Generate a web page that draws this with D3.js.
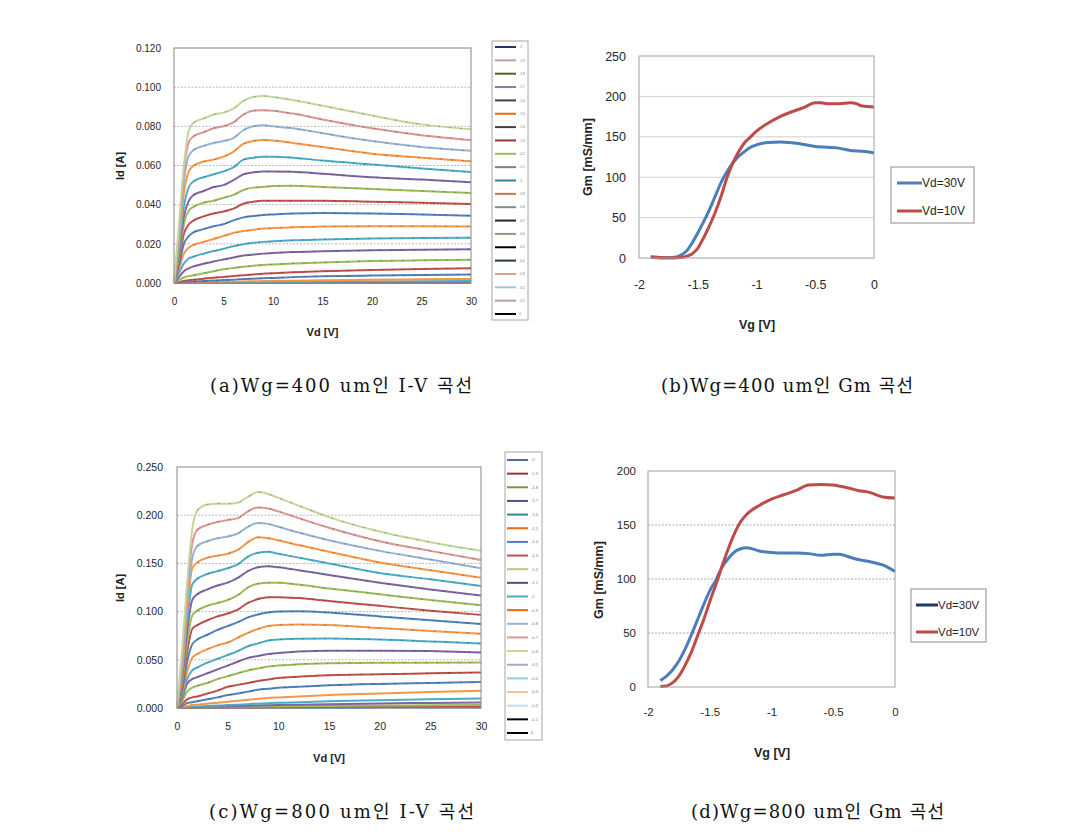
<!DOCTYPE html>
<html><head><meta charset="utf-8">
<script src="https://cdn.jsdelivr.net/npm/d3@7"></script>
<style>body{margin:0;background:#fff}svg{display:block}</style>
</head><body>
<svg id="c" width="1085" height="839"></svg>
<script>
// ---------- DATA ----------
const vdPoints = [0, 0.5, 1, 1.5, 2, 3, 4, 5, 6, 7, 8, 9, 10, 12, 15, 20, 25, 30];
const vgLabels = ["-2","-1.9","-1.8","-1.7","-1.6","-1.5","-1.4","-1.3","-1.2","-1.1","-1","-0.9","-0.8","-0.7","-0.6","-0.5","-0.4","-0.3","-0.2","-0.1","0"];

// Wg=400um I-V: rows listed from top curve (Vg=0) down to Vg=-2
const idWg400 = [
  [0,0.030,0.060,0.078,0.082,0.084,0.086,0.087,0.089,0.093,0.095,0.0955,0.095,0.0935,0.0905,0.0855,0.081,0.0785],
  [0,0.025,0.057,0.072,0.075,0.077,0.079,0.080,0.082,0.086,0.088,0.0882,0.088,0.0865,0.0835,0.079,0.0755,0.073],
  [0,0.022,0.052,0.065,0.068,0.070,0.0715,0.0725,0.074,0.078,0.080,0.0805,0.080,0.079,0.0765,0.0725,0.0695,0.0675],
  [0,0.020,0.046,0.057,0.060,0.062,0.063,0.0645,0.067,0.071,0.0725,0.073,0.0728,0.0715,0.0695,0.066,0.064,0.0622],
  [0,0.017,0.039,0.049,0.052,0.054,0.0555,0.057,0.059,0.063,0.064,0.0645,0.0645,0.064,0.0625,0.0605,0.0585,0.0567],
  [0,0.015,0.034,0.042,0.045,0.047,0.049,0.050,0.0525,0.0555,0.0565,0.057,0.057,0.0568,0.0558,0.054,0.0528,0.0514],
  [0,0.013,0.030,0.037,0.039,0.041,0.042,0.0435,0.045,0.0475,0.0487,0.049,0.0495,0.0497,0.049,0.048,0.047,0.046],
  [0,0.011,0.025,0.030,0.032,0.034,0.0355,0.0365,0.038,0.0405,0.0415,0.042,0.042,0.042,0.042,0.0415,0.041,0.0403],
  [0,0.009,0.020,0.024,0.026,0.0275,0.029,0.030,0.032,0.0335,0.0342,0.0347,0.035,0.0355,0.0357,0.0355,0.035,0.0344],
  [0,0.007,0.015,0.018,0.0195,0.021,0.0225,0.024,0.0255,0.0265,0.0272,0.0278,0.028,0.0285,0.0288,0.029,0.029,0.0289],
  [0,0.005,0.010,0.0125,0.0135,0.015,0.0163,0.0175,0.0188,0.0198,0.0205,0.021,0.0213,0.0218,0.0222,0.0227,0.023,0.0231],
  [0,0.003,0.006,0.0075,0.0085,0.0098,0.011,0.012,0.013,0.014,0.0145,0.015,0.0153,0.0158,0.0162,0.0167,0.017,0.0172],
  [0,0.0015,0.0028,0.0035,0.004,0.005,0.006,0.007,0.0077,0.0083,0.0088,0.0092,0.0095,0.010,0.0105,0.0112,0.0116,0.0119],
  [0,0.0005,0.001,0.0014,0.0017,0.0022,0.0027,0.0031,0.0036,0.004,0.0044,0.0047,0.005,0.0055,0.006,0.0067,0.0072,0.0075],
  [0,0.0002,0.0004,0.0006,0.0008,0.001,0.0013,0.0015,0.0017,0.002,0.0022,0.0024,0.0026,0.003,0.0034,0.0038,0.0041,0.0043],
  [0,0.0001,0.0002,0.0003,0.0003,0.0004,0.0005,0.0006,0.0007,0.0008,0.0009,0.001,0.0011,0.0012,0.0014,0.0017,0.0019,0.0021],
  [0,0,0.0001,0.0001,0.0001,0.0002,0.0002,0.0003,0.0003,0.0004,0.0004,0.0005,0.0005,0.0006,0.0007,0.0008,0.0009,0.001],
  [0,0,0,0,0.0001,0.0001,0.0001,0.0001,0.0002,0.0002,0.0002,0.0002,0.0003,0.0003,0.0003,0.0004,0.0004,0.0005],
  [0,0,0,0,0,0,0,0.0001,0.0001,0.0001,0.0001,0.0001,0.0001,0.0001,0.0001,0.0002,0.0002,0.0002],
  [0,0,0,0,0,0,0,0,0,0,0,0,0,0,0.0001,0.0001,0.0001,0.0001],
  [0,0,0,0,0,0,0,0,0,0,0,0,0,0,0,0,0,0]
];

// Wg=800um I-V: rows from top curve (Vg=0) down to Vg=-2
const idWg800 = [
  [0,0.06,0.13,0.185,0.205,0.211,0.212,0.212,0.213,0.219,0.224,0.222,0.218,0.210,0.198,0.183,0.172,0.163],
  [0,0.05,0.12,0.170,0.185,0.190,0.193,0.195,0.197,0.204,0.208,0.207,0.204,0.197,0.187,0.173,0.163,0.1535],
  [0,0.045,0.11,0.155,0.168,0.173,0.176,0.178,0.181,0.188,0.192,0.191,0.188,0.182,0.174,0.163,0.154,0.145],
  [0,0.04,0.10,0.145,0.151,0.156,0.158,0.160,0.164,0.172,0.177,0.176,0.174,0.169,0.162,0.151,0.143,0.135],
  [0,0.035,0.09,0.128,0.134,0.139,0.142,0.145,0.149,0.157,0.161,0.162,0.160,0.156,0.150,0.140,0.1335,0.1266],
  [0,0.03,0.08,0.112,0.118,0.123,0.127,0.130,0.135,0.142,0.146,0.147,0.146,0.143,0.138,0.130,0.123,0.1166],
  [0,0.025,0.068,0.096,0.101,0.106,0.109,0.112,0.117,0.125,0.129,0.130,0.130,0.128,0.124,0.118,0.112,0.1066],
  [0,0.02,0.058,0.082,0.086,0.091,0.095,0.098,0.102,0.109,0.113,0.115,0.115,0.114,0.111,0.106,0.101,0.0966],
  [0,0.018,0.048,0.066,0.071,0.076,0.081,0.085,0.089,0.094,0.097,0.099,0.100,0.1003,0.099,0.095,0.091,0.0872],
  [0,0.015,0.038,0.052,0.056,0.061,0.065,0.068,0.073,0.078,0.082,0.085,0.086,0.0865,0.086,0.083,0.080,0.077],
  [0,0.012,0.030,0.039,0.042,0.047,0.051,0.055,0.059,0.064,0.067,0.070,0.071,0.0718,0.072,0.071,0.069,0.067],
  [0,0.010,0.025,0.030,0.032,0.036,0.040,0.044,0.048,0.052,0.054,0.056,0.057,0.0585,0.0595,0.0595,0.059,0.0576],
  [0,0.007,0.017,0.021,0.023,0.026,0.030,0.033,0.036,0.039,0.041,0.043,0.044,0.0455,0.0465,0.047,0.047,0.0472],
  [0,0.004,0.009,0.011,0.012,0.015,0.018,0.022,0.024,0.026,0.028,0.0295,0.031,0.0325,0.034,0.035,0.036,0.0369],
  [0,0.002,0.005,0.006,0.007,0.009,0.011,0.0135,0.015,0.017,0.019,0.020,0.021,0.022,0.0235,0.025,0.026,0.0269],
  [0,0.001,0.002,0.003,0.0035,0.0045,0.0055,0.0065,0.0075,0.0085,0.0095,0.0105,0.011,0.012,0.0135,0.015,0.0165,0.018],
  [0,0.0005,0.001,0.0013,0.0016,0.002,0.0025,0.003,0.0035,0.004,0.0045,0.005,0.0055,0.006,0.007,0.008,0.009,0.0098],
  [0,0.0002,0.0005,0.0007,0.0009,0.0012,0.0015,0.0018,0.002,0.0023,0.0026,0.0029,0.0031,0.0035,0.004,0.0047,0.0053,0.0058],
  [0,0.0001,0.0002,0.0003,0.0004,0.0006,0.0007,0.0009,0.001,0.0012,0.0013,0.0015,0.0016,0.0018,0.0021,0.0025,0.0028,0.003],
  [0,0,0.0001,0.0001,0.0002,0.0003,0.0003,0.0004,0.0005,0.0006,0.0006,0.0007,0.0008,0.0009,0.001,0.0012,0.0014,0.0015],
  [0,0,0,0,0,0.0001,0.0001,0.0001,0.0002,0.0002,0.0002,0.0002,0.0003,0.0003,0.0003,0.0004,0.0005,0.0005]
];

// Gm, Wg=400um
const vgGm400 = [-1.9,-1.8,-1.7,-1.65,-1.6,-1.55,-1.5,-1.45,-1.4,-1.35,-1.3,-1.25,-1.2,-1.15,-1.1,-1.05,-1,-0.9,-0.8,-0.7,-0.6,-0.5,-0.45,-0.4,-0.3,-0.2,-0.15,-0.1,0];
const gmVd30_400 = [1,0,1,3,8,18,31,45,60,77,94,107,118,126,132,137,140,143,143.5,142.5,140.5,138,137.5,137,136,133,132.5,132,130];
const gmVd10_400 = [1.5,0.5,0,0.5,2,5,12,25,40,57,77,100,118,132,143,150,157,167,175,181,186,192,192,191,191,192,191,188,187];

// Gm, Wg=800um
const vgGm800 = [-1.9,-1.85,-1.8,-1.75,-1.7,-1.65,-1.6,-1.55,-1.5,-1.45,-1.4,-1.35,-1.3,-1.25,-1.2,-1.1,-1,-0.9,-0.8,-0.7,-0.6,-0.5,-0.45,-0.4,-0.3,-0.2,-0.1,0];
const gmVd30_800 = [6,10,16,24,35,48,62,76,89,99,111,119,125,128,129,126,124.5,124,124,123.5,122,123,123,121.5,118,116,113,107];
const gmVd10_800 = [0.5,1,4,10,20,32,47,62,79,95,112,128,142,153,160,168,174,178,182,187,187.5,187,186,185,182,180,176,175];

// Ticks and texts
const vdTicks = [0, 5, 10, 15, 20, 25, 30];
const idTicks400 = [0, 0.02, 0.04, 0.06, 0.08, 0.10, 0.12];
const idTicks800 = [0, 0.05, 0.10, 0.15, 0.20, 0.25];
const vgTicks = [-2, -1.5, -1, -0.5, 0];
const gmTicks400 = [0, 50, 100, 150, 200, 250];
const gmTicks800 = [0, 50, 100, 150, 200];
const gmSeries = ["Vd=30V", "Vd=10V"];
const captions = ["(a)Wg=400 um인 I-V 곡선", "(b)Wg=400 um인 Gm 곡선", "(c)Wg=800 um인 I-V 곡선", "(d)Wg=800 um인 Gm 곡선"];

// ---------- STYLES ----------
const curveColors = ["#c3d69b","#d99694","#95b3d7","#f79646","#4bacc6","#8064a2","#9bbb59","#c0504d","#4f81bd",
  "#f79646","#4bacc6","#8064a2","#9bbb59","#c0504d","#4f81bd","#f79646","#4bacc6","#8064a2","#9bbb59","#c0504d","#4f81bd"];
const legendColorsA = ["#1f3864","#c4a09c","#4f6228","#7f7f9f","#404040","#e46c0a","#404040","#943634","#9bbb59","#7f7f7f",
  "#31859c","#c0794d","#7f8c8d","#262626","#8c9a7a","#000000","#253b3b","#d8a080","#b0c0e0","#b0a0a0","#000000"];
const legendColorsC = ["#4f6d9b","#a0303a","#77933c","#5f4b8b","#31859c","#e46c0a","#4f81bd","#c0504d","#b3c78a","#604a7b",
  "#4bacc6","#e46c0a","#95b3d7","#d99694","#c3d69b","#b3a2c7","#93cddd","#fac090","#c6d9f1","#000000","#000000"];

const svg = d3.select("#c");
const FONT = "'Liberation Sans', Arial, sans-serif";

function axisStyle(g, size) {
  g.select(".domain").remove();
  g.selectAll("text").attr("font-family", FONT).attr("font-size", size).attr("fill", "#262626");
}

function ivPanel(o) {
  const x = d3.scaleLinear().domain([0, 30]).range([o.x0, o.x1]);
  const y = d3.scaleLinear().domain([0, o.ymax]).range([o.y1, o.y0]);
  const g = svg.append("g");
  g.selectAll("line.grid").data(o.yticks.filter(t => t > 0 && t < o.ymax - 1e-9)).join("line")
    .attr("x1", o.x0).attr("x2", o.x1).attr("y1", d => y(d)).attr("y2", d => y(d))
    .attr("stroke", "#a6a6a6").attr("stroke-width", 0.8).attr("stroke-dasharray", "2,1.5");
  const line = d3.line().x((d, i) => x(vdPoints[i])).y(d => y(d)).curve(d3.curveMonotoneX);
  const lineOv = d3.line().defined((d, i) => i >= 4).x((d, i) => x(vdPoints[i])).y(d => y(d)).curve(d3.curveMonotoneX);
  const rows = o.rows.map((r, i) => ({ r, i })).reverse();
  g.selectAll("path.iv").data(rows).join("path")
    .attr("d", d => line(d.r)).attr("fill", "none")
    .attr("stroke", d => curveColors[d.i]).attr("stroke-width", 2);
  g.selectAll("path.ov").data(rows.filter(d => d.i < 15)).join("path")
    .attr("d", d => lineOv(d.r)).attr("fill", "none")
    .attr("stroke", "#000").attr("stroke-opacity", 0.4).attr("stroke-width", 0.7)
    .attr("stroke-dasharray", "2,9");
  g.append("rect").attr("x", o.x0).attr("y", o.y0).attr("width", o.x1 - o.x0).attr("height", o.y1 - o.y0)
    .attr("fill", "none").attr("stroke", "#868686").attr("stroke-width", 1);
  const ay = g.append("g").attr("transform", `translate(${o.x0},0)`)
    .call(d3.axisLeft(y).tickValues(o.yticks).tickSize(0).tickPadding(o.ypad).tickFormat(d3.format(".3f")));
  axisStyle(ay, o.tick);
  const ax = g.append("g").attr("transform", `translate(0,${o.y1})`)
    .call(d3.axisBottom(x).tickValues(vdTicks).tickSize(0).tickPadding(o.xpad).tickFormat(d => String(d)));
  axisStyle(ax, o.tick);
  g.append("text").attr("x", (o.x0 + o.x1) / 2 + o.xlOff).attr("y", o.xlY).attr("text-anchor", "middle")
    .attr("font-family", FONT).attr("font-weight", "bold").attr("font-size", o.lab).attr("fill", "#222").text("Vd [V]");
  g.append("text").attr("transform", `translate(${o.ylX},${o.ylY}) rotate(-90)`).attr("text-anchor", "middle")
    .attr("font-family", FONT).attr("font-weight", "bold").attr("font-size", o.lab).attr("fill", "#222").text("Id [A]");
  // legend
  const L = o.leg;
  g.append("rect").attr("x", L.x0).attr("y", L.y0).attr("width", L.x1 - L.x0).attr("height", L.y1 - L.y0)
    .attr("fill", "#fff").attr("stroke", "#a6a6a6").attr("stroke-width", 1);
  const ly = d3.scalePoint().domain(vgLabels).range([L.first, L.last]);
  const le = g.selectAll("g.le").data(vgLabels).join("g").attr("transform", d => `translate(0,${ly(d)})`);
  le.append("line").attr("x1", L.lx0).attr("x2", L.lx1).attr("stroke", (d, i) => o.legColors[i]).attr("stroke-width", 2);
  le.append("text").attr("x", L.lx1 + 3).attr("dy", "0.35em").attr("font-family", FONT)
    .attr("font-size", L.fs).attr("fill", "#777").text(d => d);
}

function gmPanel(o) {
  const x = d3.scaleLinear().domain([-2, 0]).range([o.x0, o.x1]);
  const y = d3.scaleLinear().domain([0, o.ymax]).range([o.y1, o.y0]);
  const g = svg.append("g");
  g.selectAll("line.grid").data(o.yticks.filter(t => t > 0 && t < o.ymax)).join("line")
    .attr("x1", o.x0).attr("x2", o.x1).attr("y1", d => y(d)).attr("y2", d => y(d))
    .attr("stroke", o.gridColor).attr("stroke-width", 1).attr("stroke-dasharray", o.gridDash);
  const mk = xs => d3.line().x((d, i) => x(xs[i])).y(d => y(d)).curve(d3.curveMonotoneX);
  g.append("path").attr("d", mk(o.vg)(o.s30)).attr("fill", "none").attr("stroke", "#4a7ebb").attr("stroke-width", 3);
  g.append("path").attr("d", mk(o.vg)(o.s10)).attr("fill", "none").attr("stroke", "#be4b48").attr("stroke-width", 3);
  g.append("rect").attr("x", o.x0).attr("y", o.y0).attr("width", o.x1 - o.x0).attr("height", o.y1 - o.y0)
    .attr("fill", "none").attr("stroke", "#a0a0a0").attr("stroke-width", 1);
  const ay = g.append("g").attr("transform", `translate(${o.x0},0)`)
    .call(d3.axisLeft(y).tickValues(o.yticks).tickSize(0).tickPadding(o.ypad).tickFormat(d => String(d)));
  axisStyle(ay, o.tick);
  const ax = g.append("g").attr("transform", `translate(0,${o.y1})`)
    .call(d3.axisBottom(x).tickValues(vgTicks).tickSize(0).tickPadding(o.xpad).tickFormat(d => String(d)));
  axisStyle(ax, o.tick);
  g.append("text").attr("x", o.xlX).attr("y", o.xlY).attr("text-anchor", "middle")
    .attr("font-family", FONT).attr("font-weight", "bold").attr("font-size", o.lab).attr("fill", "#222").text("Vg [V]");
  g.append("text").attr("transform", `translate(${o.ylX},${o.ylY}) rotate(-90)`).attr("text-anchor", "middle")
    .attr("font-family", FONT).attr("font-weight", "bold").attr("font-size", o.lab).attr("fill", "#222").text("Gm [mS/mm]");
  const L = o.leg;
  g.append("rect").attr("x", L.x0).attr("y", L.y0).attr("width", L.x1 - L.x0).attr("height", L.y1 - L.y0)
    .attr("fill", "#fff").attr("stroke", "#a0a0a0").attr("stroke-width", 1.2);
  const lc = [o.leg30Color, "#be4b48"];
  gmSeries.forEach((s, i) => {
    const yy = L.ys[i];
    g.append("line").attr("x1", L.lx0).attr("x2", L.lx1).attr("y1", yy).attr("y2", yy).attr("stroke", lc[i]).attr("stroke-width", 3);
    g.append("text").attr("x", L.lx1).attr("y", yy).attr("dy", "0.35em").attr("font-family", FONT)
      .attr("font-size", L.fs).attr("fill", "#262626").text(s);
  });
}

ivPanel({ x0: 174, x1: 471, y0: 48, y1: 283, ymax: 0.12, yticks: idTicks400, rows: idWg400,
  tick: 10, ypad: 13, xpad: 15, lab: 11, xlOff: 0, xlY: 336, ylX: 124, ylY: 166,
  legColors: legendColorsA,
  leg: { x0: 492, x1: 528, y0: 41, y1: 320, first: 47, last: 314, lx0: 495, lx1: 516, fs: 3.5 } });

gmPanel({ x0: 639, x1: 874, y0: 56, y1: 258, ymax: 250, yticks: gmTicks400, vg: vgGm400, s30: gmVd30_400, s10: gmVd10_400,
  gridColor: "#d0d0d0", gridDash: null, tick: 12.5, ypad: 13, xpad: 22, lab: 12.5,
  xlX: 757, xlY: 329, ylX: 592, ylY: 157, leg30Color: "#4a7ebb",
  leg: { x0: 891, x1: 974, y0: 167, y1: 223, ys: [183, 211], lx0: 897, lx1: 922, fs: 12 } });

ivPanel({ x0: 177, x1: 481, y0: 467, y1: 708, ymax: 0.25, yticks: idTicks800, rows: idWg800,
  tick: 10.5, ypad: 14, xpad: 15, lab: 11, xlOff: 0, xlY: 762, ylX: 124, ylY: 588,
  legColors: legendColorsC,
  leg: { x0: 505, x1: 542, y0: 452, y1: 740, first: 460, last: 733, lx0: 507, lx1: 528, fs: 4 } });

gmPanel({ x0: 648, x1: 895, y0: 471, y1: 687, ymax: 200, yticks: gmTicks800, vg: vgGm800, s30: gmVd30_800, s10: gmVd10_800,
  gridColor: "#a6a6a6", gridDash: "2,1.5", tick: 11.5, ypad: 12, xpad: 21, lab: 12.5,
  xlX: 772, xlY: 757, ylX: 603, ylY: 580, leg30Color: "#1f3864",
  leg: { x0: 911, x1: 986, y0: 589, y1: 642, ys: [605, 632], lx0: 916, lx1: 938, fs: 11.5 } });

// captions
const capPos = [[210, 392, 262], [661, 392, 252], [209, 818, 265], [691, 818, 253]];
svg.selectAll("text.cap").data(captions).join("text")
  .attr("x", (d, i) => capPos[i][0]).attr("y", (d, i) => capPos[i][1])
  .attr("textLength", (d, i) => capPos[i][2]).attr("lengthAdjust", "spacing")
  .attr("font-family", "'DejaVu Serif', 'Noto Sans CJK KR', serif").attr("font-size", 18).attr("fill", "#111")
  .text(d => d);
</script>
</body></html>
